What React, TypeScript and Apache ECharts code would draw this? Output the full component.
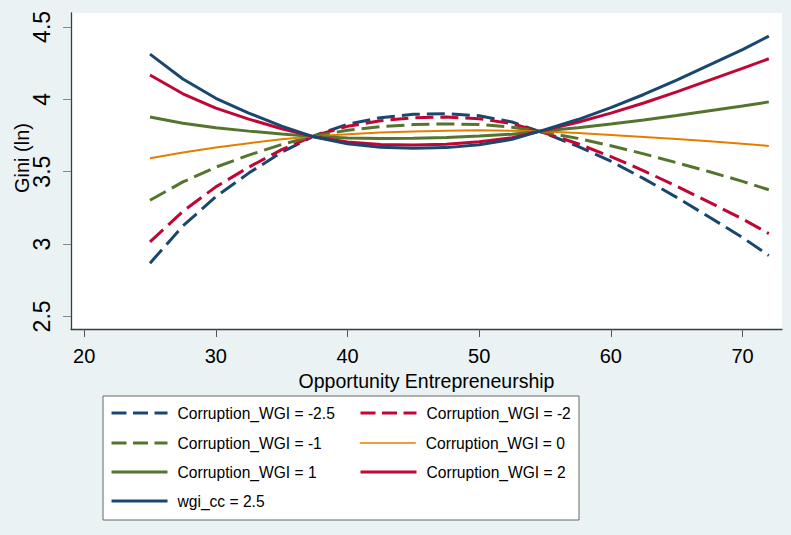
import React, { useEffect, useRef } from "react";
import * as echarts from "echarts";

const xValues = [25, 27.5, 30, 32.5, 35, 37.5, 40, 42.5, 45, 47.5, 50, 52.5, 55, 57.5, 60, 62.5, 65, 67.5, 70, 72];

const seriesNames = [
  "Corruption_WGI = -2.5",
  "Corruption_WGI = -2",
  "Corruption_WGI = -1",
  "Corruption_WGI = 0",
  "Corruption_WGI = 1",
  "Corruption_WGI = 2",
  "wgi_cc = 2.5",
];

const wgiM25 = [2.868, 3.125, 3.327, 3.49, 3.634, 3.749, 3.827, 3.873, 3.896, 3.901, 3.886, 3.843, 3.765, 3.675, 3.572, 3.452, 3.322, 3.185, 3.045, 2.921];
const wgiM2 = [3.015, 3.226, 3.395, 3.531, 3.652, 3.748, 3.813, 3.852, 3.872, 3.877, 3.866, 3.831, 3.767, 3.693, 3.604, 3.506, 3.399, 3.288, 3.173, 3.072];
const wgiM1 = [3.302, 3.429, 3.531, 3.614, 3.688, 3.746, 3.786, 3.811, 3.825, 3.83, 3.826, 3.807, 3.772, 3.73, 3.679, 3.623, 3.562, 3.499, 3.433, 3.375];
const wgi0 = [3.593, 3.632, 3.667, 3.697, 3.724, 3.744, 3.759, 3.77, 3.778, 3.783, 3.786, 3.783, 3.777, 3.767, 3.754, 3.74, 3.725, 3.71, 3.693, 3.678];
const wgi1 = [3.878, 3.835, 3.803, 3.78, 3.76, 3.742, 3.732, 3.729, 3.731, 3.736, 3.746, 3.759, 3.782, 3.804, 3.829, 3.857, 3.888, 3.921, 3.953, 3.982];
const wgi2 = [4.168, 4.038, 3.939, 3.863, 3.796, 3.74, 3.705, 3.688, 3.684, 3.689, 3.706, 3.735, 3.787, 3.841, 3.904, 3.974, 4.051, 4.132, 4.213, 4.28];
const wgi25 = [4.312, 4.14, 4.007, 3.905, 3.814, 3.739, 3.692, 3.668, 3.661, 3.666, 3.686, 3.723, 3.79, 3.86, 3.942, 4.033, 4.133, 4.238, 4.343, 4.436];

const xTicks = [20, 30, 40, 50, 60, 70];
const yTicks = [2.5, 3, 3.5, 4, 4.5];

const NAVY = "#1a476f";
const RED = "#c10534";
const GREEN = "#55752f";
const ORANGE = "#e37e00";

const seriesValues = [wgiM25, wgiM2, wgiM1, wgi0, wgi1, wgi2, wgi25];
const seriesColors = [NAVY, RED, GREEN, ORANGE, GREEN, RED, NAVY];
const seriesDashed = [true, true, true, false, false, false, false];
const seriesWidth = [3, 3, 3, 2, 3, 3, 3];

const FONT = "'Liberation Sans', Arial, sans-serif";

export default function App() {
  const ref = useRef<HTMLDivElement>(null);

  useEffect(() => {
    document.body.style.margin = "0";
    if (!ref.current) return;
    const chart = echarts.init(ref.current, undefined, { renderer: "svg" });

    const series = seriesNames.map((name, i) => ({
      name,
      type: "line",
      data: xValues.map((x, j) => [x, seriesValues[i][j]]),
      symbol: "none",
      showSymbol: false,
      smooth: false,
      lineStyle: {
        color: seriesColors[i],
        width: seriesWidth[i],
        type: seriesDashed[i] ? [18, 7] : "solid",
        cap: "butt",
      },
      itemStyle: { color: seriesColors[i] },
    }));

    const legendPos = [
      [110, 405],
      [359, 405],
      [110, 435],
      [359, 435],
      [110, 464],
      [359, 464],
      [110, 493],
    ];

    const legends = seriesNames.map((name, i) => ({
      data: [name],
      left: legendPos[i][0],
      top: legendPos[i][1],
      padding: 0,
      itemWidth: 56,
      itemHeight: 20,
      selectedMode: false,
      z: 10,
      itemStyle: { opacity: 0, color: "transparent", borderWidth: 0 },
      lineStyle: {
        width: seriesWidth[i] === 2 ? 1.6 : 3,
        type: seriesDashed[i] ? [15, 6.5] : "solid",
        color: seriesColors[i],
        cap: "butt",
      },
      textStyle: {
        fontFamily: FONT,
        fontSize: 15.6,
        color: "#000",
        padding: [0, 0, 0, 5],
      },
    }));

    chart.setOption({
      animation: false,
      backgroundColor: "#eaf2f3",
      grid: {
        left: 71,
        top: 13,
        right: 9,
        bottom: 206,
        show: true,
        backgroundColor: "#ffffff",
        borderWidth: 0,
        containLabel: false,
      },
      legend: legends,
      xAxis: {
        type: "value",
        min: 19,
        max: 73,
        name: "Opportunity Entrepreneurship",
        nameLocation: "middle",
        nameGap: 26,
        nameTextStyle: { fontFamily: FONT, fontSize: 19.5, color: "#000" },
        axisLine: { show: true, onZero: false, lineStyle: { color: "#3c3c3c", width: 1.3 } },
        axisTick: { show: true, length: 8, customValues: xTicks, lineStyle: { color: "#555", width: 1 } },
        axisLabel: { customValues: xTicks, margin: 17, fontFamily: FONT, fontSize: 20, color: "#000" },
        splitLine: { show: false },
      },
      yAxis: {
        type: "value",
        min: 2.413,
        max: 4.596,
        axisLine: { show: true, onZero: false, lineStyle: { color: "#3c3c3c", width: 1.3 } },
        axisTick: { show: true, length: 8, customValues: yTicks, lineStyle: { color: "#888", width: 1 } },
        axisLabel: { customValues: yTicks, rotate: 90, margin: 18, fontFamily: FONT, fontSize: 23, color: "#000" },
        splitLine: { show: false },
      },
      graphic: [
        {
          type: "rect",
          z: 0,
          shape: { x: 103, y: 396, width: 476, height: 124 },
          style: { fill: "#ffffff", stroke: "#666666", lineWidth: 1 },
        },
        {
          type: "text",
          x: 22,
          y: 158,
          rotation: Math.PI / 2,
          style: {
            text: "Gini (ln)",
            fontFamily: FONT,
            fontSize: 20,
            fill: "#000",
            align: "center",
            verticalAlign: "middle",
            textAlign: "center",
            textVerticalAlign: "middle",
          },
        },
      ],
      series,
    });

    return () => chart.dispose();
  }, []);

  return (
    <div
      ref={ref}
      style={{ position: "absolute", left: 0, top: 0, width: 791, height: 535 }}
    />
  );
}
